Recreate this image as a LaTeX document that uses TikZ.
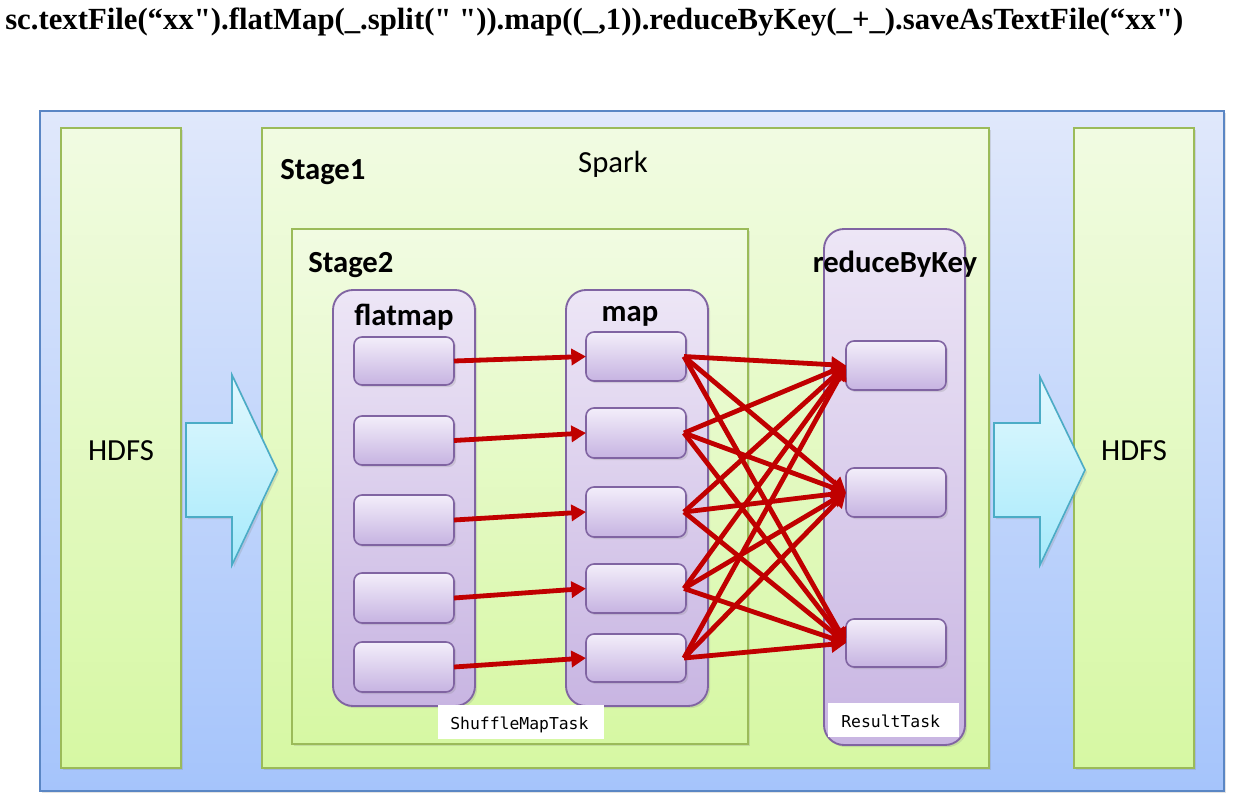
\documentclass[tikz,border=0pt]{standalone}
\usepackage{fontspec}
\setmainfont{Carlito}
\newfontfamily\titlefont{Liberation Serif}[Ligatures=TeXOff]
\newfontfamily\codefont{DejaVu Sans Mono}
\usetikzlibrary{arrows.meta,shadows}

\definecolor{outerline}{HTML}{5A86C4}
\definecolor{outertop}{HTML}{E0E8FB}
\definecolor{outerbot}{HTML}{A5C4FB}
\definecolor{greenline}{HTML}{9BBB59}
\definecolor{greentop}{HTML}{F1FBE2}
\definecolor{greenbot}{HTML}{D6F8A3}
\definecolor{purpline}{HTML}{8064A2}
\definecolor{purptop}{HTML}{EDE6F6}
\definecolor{purpbot}{HTML}{C8B5E2}
\definecolor{cellTop}{HTML}{F3EEFA}
\definecolor{cellBot}{HTML}{C6B3E1}
\definecolor{cyanline}{HTML}{4BACC6}
\definecolor{cyantop}{HTML}{E2F8FE}
\definecolor{cyanbot}{HTML}{A6EAFB}
\definecolor{flowred}{HTML}{C00000}

% a node given by its pixel corners (x1,y1) and (x2,y2)
\newcommand\pxnode[6]{%
  \node[#2, minimum width={(#5-#3)*0.75pt}, minimum height={(#6-#4)*0.75pt}]
    (#1) at ({(#3+#5)/2},{(#4+#6)/2}) {};}

\begin{document}
\begin{tikzpicture}[x=0.75pt,y=-0.75pt,
  softshadow/.style={drop shadow={shadow xshift=1.6pt, shadow yshift=-1.6pt, opacity=0.22}},
  outerbox/.style={draw=outerline, line width=1.3pt, top color=outertop, bottom color=outerbot,
    inner sep=0pt, outer sep=0pt, softshadow},
  greenbox/.style={draw=greenline, line width=1.4pt, top color=greentop, bottom color=greenbot,
    inner sep=0pt, outer sep=0pt, softshadow},
  groupbox/.style={draw=purpline, line width=1.4pt, rounded corners=15pt, top color=purptop,
    bottom color=purpbot, inner sep=0pt, outer sep=0pt, softshadow},
  cellbox/.style={draw=purpline, line width=1.2pt, rounded corners=6pt, top color=cellTop,
    bottom color=cellBot, inner sep=0pt, outer sep=0pt, softshadow},
  tagbox/.style={fill=white, inner sep=0pt, outer sep=0pt},
  blockarrow/.style={draw=cyanline, line width=1.2pt, top color=cyantop, bottom color=cyanbot,
    line join=miter, softshadow},
  flow/.style={draw=flowred, line width=3.6pt, -{Triangle[length=11pt,width=12pt]}},
  biglabel/.style={font=\fontsize{23}{27}\selectfont, inner sep=0pt},
  boldlabel/.style={font=\bfseries\fontsize{23}{27}\selectfont, inner sep=0pt},
  codelabel/.style={font=\codefont\fontsize{12.3}{14}\selectfont, inner sep=0pt}
]
\useasboundingbox (0,0) rectangle (1235,807);
\fill[white] (0,0) rectangle (1235,807);

% the chained call
\node[anchor=base west, inner sep=0pt] (code) at (5,29)
  {\resizebox{883.5pt}{!}{\titlefont\bfseries sc.textFile(“xx").flatMap(\_.split(" ")).map((\_,1)).reduceByKey(\_+\_).saveAsTextFile(“xx")}};

% frame and the three columns
\pxnode{frame}{outerbox}{40}{111}{1224}{791}
\pxnode{hdfsin}{greenbox}{61}{128}{181}{768}
\pxnode{stage1}{greenbox}{262}{128}{989}{768}
\pxnode{hdfsout}{greenbox}{1074}{128}{1194}{768}

% data flowing in and out
\path[blockarrow] (186,423) -- (232,423) -- (232,375) -- (277,470) -- (232,565)
  -- (232,517) -- (186,517) -- cycle;
\path[blockarrow] (994,423) -- (1040,423) -- (1040,377) -- (1085,470) -- (1040,565)
  -- (1040,517) -- (994,517) -- cycle;

% stage 2 and the operator groups
\pxnode{stage2}{greenbox}{292}{229}{748}{744}
\pxnode{flatgrp}{groupbox}{333}{290}{475}{706}
\pxnode{mapgrp}{groupbox}{566}{290}{708}{706}
\pxnode{redgrp}{groupbox}{824}{229}{965}{745}

% partitions
\pxnode{f1}{cellbox}{354}{337}{454}{385}
\pxnode{f2}{cellbox}{354}{416}{454}{465}
\pxnode{f3}{cellbox}{354}{495}{454}{545}
\pxnode{f4}{cellbox}{354}{573}{454}{623}
\pxnode{f5}{cellbox}{354}{642}{454}{692}
\pxnode{m1}{cellbox}{586}{332}{686}{381}
\pxnode{m2}{cellbox}{586}{408}{686}{458}
\pxnode{m3}{cellbox}{586}{487}{686}{537}
\pxnode{m4}{cellbox}{586}{564}{686}{613}
\pxnode{m5}{cellbox}{586}{634}{686}{682}
\pxnode{r1}{cellbox}{846}{341}{946}{390}
\pxnode{r2}{cellbox}{846}{468}{946}{517}
\pxnode{r3}{cellbox}{846}{619}{946}{667}

% task type tags
\pxnode{shuffletag}{tagbox}{438}{705}{604}{739}
\pxnode{resulttag}{tagbox}{828}{703}{959}{737}
\node[codelabel, anchor=base west] at (450,729) {ShuffleMapTask};
\node[codelabel, anchor=base west] at (841,727) {ResultTask};

% narrow and shuffle dependencies
\foreach \i in {1,...,5} \draw[flow] (f\i.east) -- (m\i.west);
\foreach \i in {1,...,5} \foreach \j in {1,2,3} \draw[flow] (m\i.east) ++(-2,0) -- (r\j.west);

% labels
\node[biglabel, anchor=base] (hdfsinlbl) at (121,460) {HDFS};
\node[biglabel, anchor=base] (hdfsoutlbl) at (1134,460) {HDFS};
\node[biglabel, anchor=base] (sparklbl) at (613,172) {Spark};
\node[boldlabel, anchor=base west] (stage1lbl) at (280,179) {Stage1};
\node[boldlabel, anchor=base west] (stage2lbl) at (308,272) {Stage2};
\node[boldlabel, anchor=base] (flatlbl) at (404,325) {flatmap};
\node[boldlabel, anchor=base] (maplbl) at (630,321) {map};
\node[boldlabel, anchor=base] (redlbl) at (895,272) {reduceByKey};
\end{tikzpicture}
\end{document}
